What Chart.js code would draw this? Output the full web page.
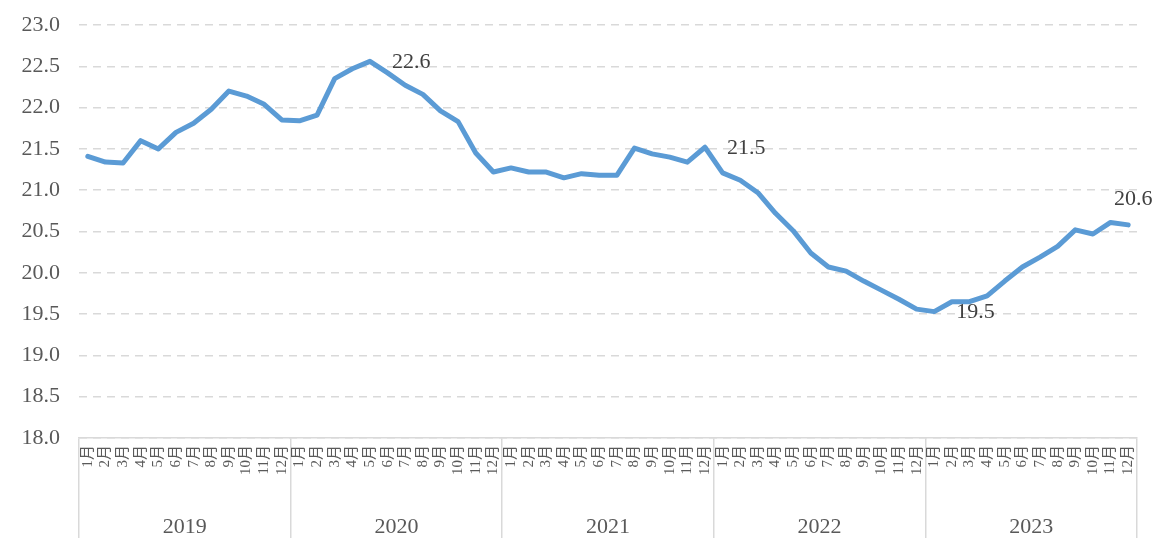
<!DOCTYPE html>
<html>
<head>
<meta charset="utf-8">
<script src="https://cdn.jsdelivr.net/npm/chart.js@4.4.1/dist/chart.umd.min.js"></script>
<style>
  html, body { margin: 0; padding: 0; background: #ffffff; }
  #wrap { width: 1158px; height: 538px; }
</style>
</head>
<body>
<div id="wrap"><canvas id="c" width="1158" height="538"></canvas></div>
<script>
const years = ['2019', '2020', '2021', '2022', '2023'];
const monthNames = ['1月', '2月', '3月', '4月', '5月', '6月', '7月', '8月', '9月', '10月', '11月', '12月'];
const months = [].concat(monthNames, monthNames, monthNames, monthNames, monthNames);

const values2019 = [21.41, 21.34, 21.33, 21.60, 21.50, 21.70, 21.81, 21.98, 22.20, 22.14, 22.04, 21.85];
const values2020 = [21.84, 21.91, 22.35, 22.47, 22.56, 22.42, 22.27, 22.16, 21.96, 21.83, 21.45, 21.22];
const values2021 = [21.27, 21.22, 21.22, 21.15, 21.20, 21.18, 21.18, 21.51, 21.44, 21.40, 21.34, 21.52];
const values2022 = [21.21, 21.12, 20.97, 20.72, 20.51, 20.24, 20.07, 20.02, 19.90, 19.79, 19.68, 19.56];
const values2023 = [19.53, 19.65, 19.65, 19.72, 19.90, 20.07, 20.19, 20.32, 20.52, 20.47, 20.61, 20.58];
const values = [].concat(values2019, values2020, values2021, values2022, values2023);

const yTicks = [18.0, 18.5, 19.0, 19.5, 20.0, 20.5, 21.0, 21.5, 22.0, 22.5, 23.0];

// indices of labelled points and where the label sits
const labelPoints = [16, 35, 48, 59];
const labelPlacement = ['right', 'right', 'right', 'above'];

const serif = "'Liberation Serif', 'Noto Sans CJK SC', serif";
const gridGray = '#d9d9d9';

const dataLabels = {
  id: 'dataLabels',
  afterDatasetsDraw(chart) {
    const meta = chart.getDatasetMeta(0);
    const ctx = chart.ctx;
    ctx.save();
    ctx.font = '22px ' + serif;
    ctx.fillStyle = '#404040';
    ctx.textBaseline = 'middle';
    labelPoints.forEach((idx, k) => {
      const pt = meta.data[idx];
      const txt = values[idx].toFixed(1);
      if (labelPlacement[k] === 'right') {
        ctx.textAlign = 'left';
        ctx.fillText(txt, pt.x + 22, pt.y + 1);
      } else {
        ctx.textAlign = 'center';
        ctx.fillText(txt, pt.x + 5, pt.y - 26);
      }
    });
    ctx.restore();
  }
};

new Chart(document.getElementById('c'), {
  type: 'line',
  data: {
    labels: months,
    datasets: [{
      data: values,
      borderColor: '#5b9bd5',
      backgroundColor: '#5b9bd5',
      borderWidth: 5,
      pointRadius: 0,
      tension: 0,
      borderJoinStyle: 'round',
      borderCapStyle: 'round',
      fill: false
    }]
  },
  options: {
    responsive: false,
    animation: false,
    devicePixelRatio: 1,
    layout: { padding: { left: 0, right: 21, top: 25, bottom: 0 } },
    plugins: { legend: { display: false }, tooltip: { enabled: false } },
    scales: {
      y: {
        min: 18, max: 23,
        afterBuildTicks: s => { s.ticks = yTicks.map(v => ({ value: v })); },
        afterFit: s => { s.width = 79; s.paddingTop = 0; s.paddingBottom = 0; },
        border: { display: false, dash: [8, 6] },
        grid: { color: gridGray, lineWidth: 1.5, drawTicks: false },
        ticks: {
          padding: 19,
          color: '#595959',
          font: { family: serif, size: 22 },
          callback: v => Number(v).toFixed(1)
        }
      },
      x: {
        type: 'category',
        position: 'bottom',
        offset: true,
        afterFit: s => { s.height = 38; },
        border: { display: true, color: gridGray, width: 1.5 },
        grid: {
          offset: true,
          drawOnChartArea: false,
          drawTicks: true,
          tickLength: 100,
          lineWidth: 1.5,
          color: c => (c.type !== 'tick' || c.index % 12 === 0) ? gridGray : 'rgba(0,0,0,0)'
        },
        ticks: {
          autoSkip: false,
          minRotation: 90,
          maxRotation: 90,
          padding: -93,
          color: '#595959',
          font: { family: serif, size: 15 }
        }
      },
      x2: {
        type: 'category',
        position: 'bottom',
        labels: years,
        offset: true,
        afterFit: s => { s.height = 62; },
        border: { display: false },
        grid: { display: false, drawTicks: false },
        ticks: {
          padding: 38,
          color: '#595959',
          font: { family: serif, size: 22 }
        }
      }
    }
  },
  plugins: [dataLabels]
});
</script>
</body>
</html>
